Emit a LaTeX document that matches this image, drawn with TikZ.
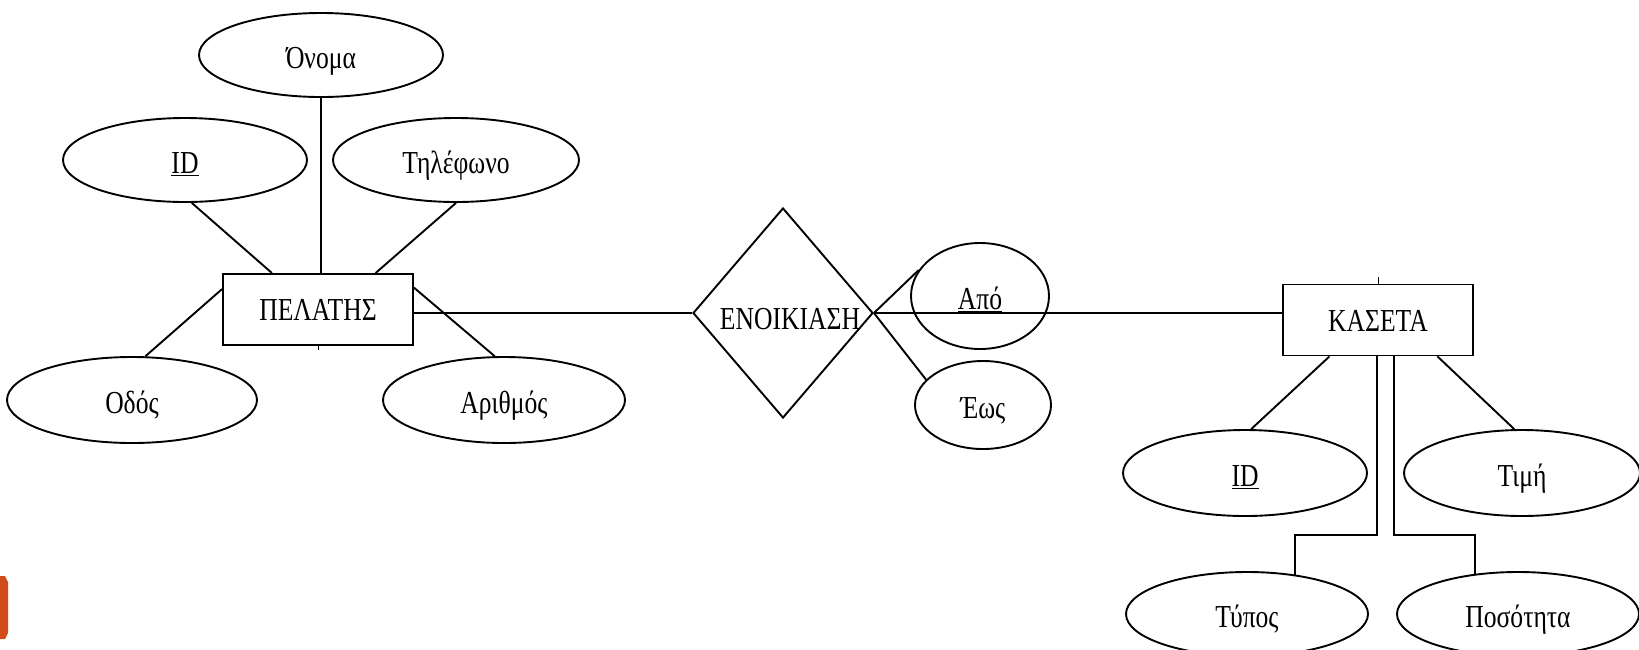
\documentclass[tikz,border=0pt]{standalone}
\usepackage{fontspec}
\setmainfont{Liberation Serif}[FakeStretch=0.8]
\usetikzlibrary{shapes.geometric,calc}
\definecolor{slideorange}{RGB}{209,76,27}
\begin{document}
\begin{tikzpicture}[x=1pt,y=-1pt,
  every node/.style={font=\fontsize{32}{38}\selectfont, line width=1.9pt},
  attr/.style={draw, ellipse, inner sep=0pt, text height=27pt, text depth=0pt},
  ent/.style={draw, rectangle, minimum width=190pt, minimum height=71pt, inner sep=0pt, text height=22pt, text depth=0pt},
  rel/.style={draw, diamond, minimum width=180pt, minimum height=210pt, inner sep=0pt},
  conn/.style={line width=1.9pt},
  tick/.style={line width=1pt}]
\useasboundingbox (0,0) rectangle (1639,649);
\fill[slideorange] (0,576) -- (5,576) -- (8,582) -- (8,633) -- (5,639) -- (0,639) -- cycle;

% left entity and attributes
\node[attr, minimum width=244pt, minimum height=84pt] (onoma) at (321,55) {Όνομα};
\node[attr, minimum width=244pt, minimum height=84pt] (id1) at (185,160) {\underline{ID}};
\node[attr, minimum width=246pt, minimum height=84pt] (tel) at (456,160) {Τηλέφωνο};
\node[ent] (pel) at (318,309.5) {ΠΕΛΑΤΗΣ};
\node[attr, minimum width=250pt, minimum height=86pt] (odos) at (132,400) {Οδός};
\node[attr, minimum width=242pt, minimum height=86pt] (arith) at (504,400) {Αριθμός};

% relationship
\node[rel] (enoik) at (783,313) {};
\node[inner sep=0pt, anchor=base] (enoiktext) at (790,329) {ΕΝΟΙΚΙΑΣΗ};
\node[attr, minimum width=138pt, minimum height=106pt] (apo) at (980,296) {\underline{Από}};
\node[attr, minimum width=136pt, minimum height=88pt] (eos) at (983,405) {Έως};

% right entity and attributes
\node[ent] (kas) at (1378,320) {ΚΑΣΕΤΑ};
\node[attr, minimum width=244pt, minimum height=86pt] (id2) at (1245,473) {\underline{ID}};
\node[attr, minimum width=236pt, minimum height=86pt] (timi) at (1522,473) {Τιμή};
\node[attr, minimum width=242pt, minimum height=84pt] (typos) at (1247,614) {Τύπος};
\node[attr, minimum width=242pt, minimum height=84pt] (posot) at (1518,614) {Ποσότητα};

% connectors left
\draw[conn] (onoma.south) -- (onoma.south |- pel.north);
\draw[conn] (id1.-81) -- ($(pel.north west)!0.26!(pel.north east)$);
\draw[conn] (tel.south) -- ($(pel.north west)!0.8!(pel.north east)$);
\draw[conn] ($(pel.north west)!0.22!(pel.south west)$) -- (odos.73);
\draw[conn] ($(pel.north east)!0.2!(pel.south east)$) -- (arith.102);
\draw[conn] (enoik.west -| pel.east) -- (enoik.west);

% connectors middle
\draw[conn] (enoik.east) -- (enoik.east -| kas.west);
\draw[conn] (enoik.east) -- (apo.157);
\draw[conn] (enoik.east) -- (eos.156);

% connectors right
\draw[conn] ($(kas.south west)!0.247!(kas.south east)$) -- (id2.82);
\draw[conn] ($(kas.south west)!0.81!(kas.south east)$) -- (timi.100);
\coordinate (tA) at ($(kas.south west)!0.495!(kas.south east)$);
\coordinate (tB) at (1295,535);
\draw[conn] (tA) |- (tB) -- (tB |- typos.39);
\coordinate (pA) at ($(kas.south west)!0.584!(kas.south east)$);
\coordinate (pB) at (1475,535);
\draw[conn] (pA) |- (pB) -- (pB |- posot.137.6);

% small ticks
\draw[tick] (pel.south) -- ++(0,4);
\draw[tick] (kas.north) -- ++(0,-7);
\end{tikzpicture}
\end{document}
